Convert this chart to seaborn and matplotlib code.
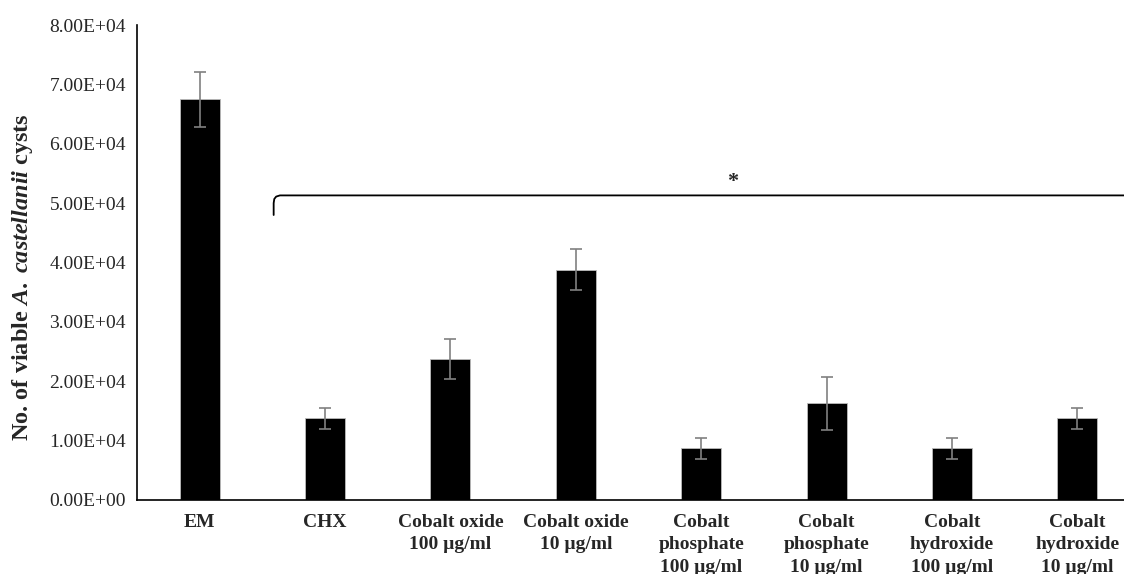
import matplotlib
matplotlib.use("Agg")
import matplotlib.pyplot as plt
import seaborn as sns
import numpy as np
from matplotlib.ticker import FuncFormatter

categories = ["EM", "CHX", "Cobalt oxide\n100 µg/ml", "Cobalt oxide\n10 µg/ml",
              "Cobalt\nphosphate\n100 µg/ml", "Cobalt\nphosphate\n10 µg/ml",
              "Cobalt\nhydroxide\n100 µg/ml", "Cobalt\nhydroxide\n10 µg/ml"]
means = [6.75e4, 1.375e4, 2.37e4, 3.88e4, 0.87e4, 1.63e4, 0.87e4, 1.375e4]
errors = [0.46e4, 0.18e4, 0.34e4, 0.34e4, 0.175e4, 0.45e4, 0.175e4, 0.18e4]
y_ticks = [0, 1e4, 2e4, 3e4, 4e4, 5e4, 6e4, 7e4, 8e4]

sns.set_style("white")
plt.rcParams['font.family'] = ['Liberation Serif', 'DejaVu Serif']
plt.rcParams['mathtext.fontset'] = 'custom'
plt.rcParams['mathtext.it'] = 'Liberation Serif:italic:bold'
plt.rcParams['mathtext.rm'] = 'Liberation Serif:bold'
plt.rcParams['mathtext.bf'] = 'Liberation Serif:bold'

fig = plt.figure(figsize=(11.24, 5.74), dpi=100)
ax = fig.add_axes([137/1124, 1-500/574, (1140-137)/1124, 475/574])

sns.barplot(x=categories, y=means, color="black", width=0.32, errorbar=None,
            saturation=1, ax=ax, edgecolor="#bbbbbb", linewidth=0.6)
ax.errorbar(np.arange(len(means)), means, yerr=errors, fmt="none",
            ecolor="#808080", elinewidth=1.2, capsize=4, capthick=1.2, zorder=5)

ax.set_xlim(-0.5, 7.5)
ax.set_ylim(0, 8e4)
ax.set_yticks(y_ticks)
ax.yaxis.set_major_formatter(FuncFormatter(lambda v, p: f"{v:.2E}"))
ax.tick_params(axis="y", length=0, pad=8, labelsize=14)
ax.tick_params(axis="x", length=0, pad=10, labelsize=14)
for lab in ax.get_xticklabels():
    lab.set_fontweight("bold")
    lab.set_linespacing(1.42)
    lab.set_verticalalignment("top")

for s in ["top", "right"]:
    ax.spines[s].set_visible(False)
for s in ["left", "bottom"]:
    ax.spines[s].set_color("black")
    ax.spines[s].set_linewidth(1.2)

ax.set_ylabel(r"No. of viable $\it{A.}$ $\it{castellanii}$ cysts", fontsize=17.5,
              fontweight="bold")
ax.yaxis.set_label_coords(-0.102, 0.469)

# significance bracket
bx = [0.59, 0.59, 0.595, 0.61, 0.64, 7.6]
by = [4.80e4, 5.00e4, 5.07e4, 5.11e4, 5.13e4, 5.13e4]
ax.plot(bx, by, color="black", lw=1.3, clip_on=False)
ax.text(4.25, 5.36e4, "*", ha="center", va="center", fontsize=16, fontweight="bold")

fig.savefig("out.png", dpi=100)
